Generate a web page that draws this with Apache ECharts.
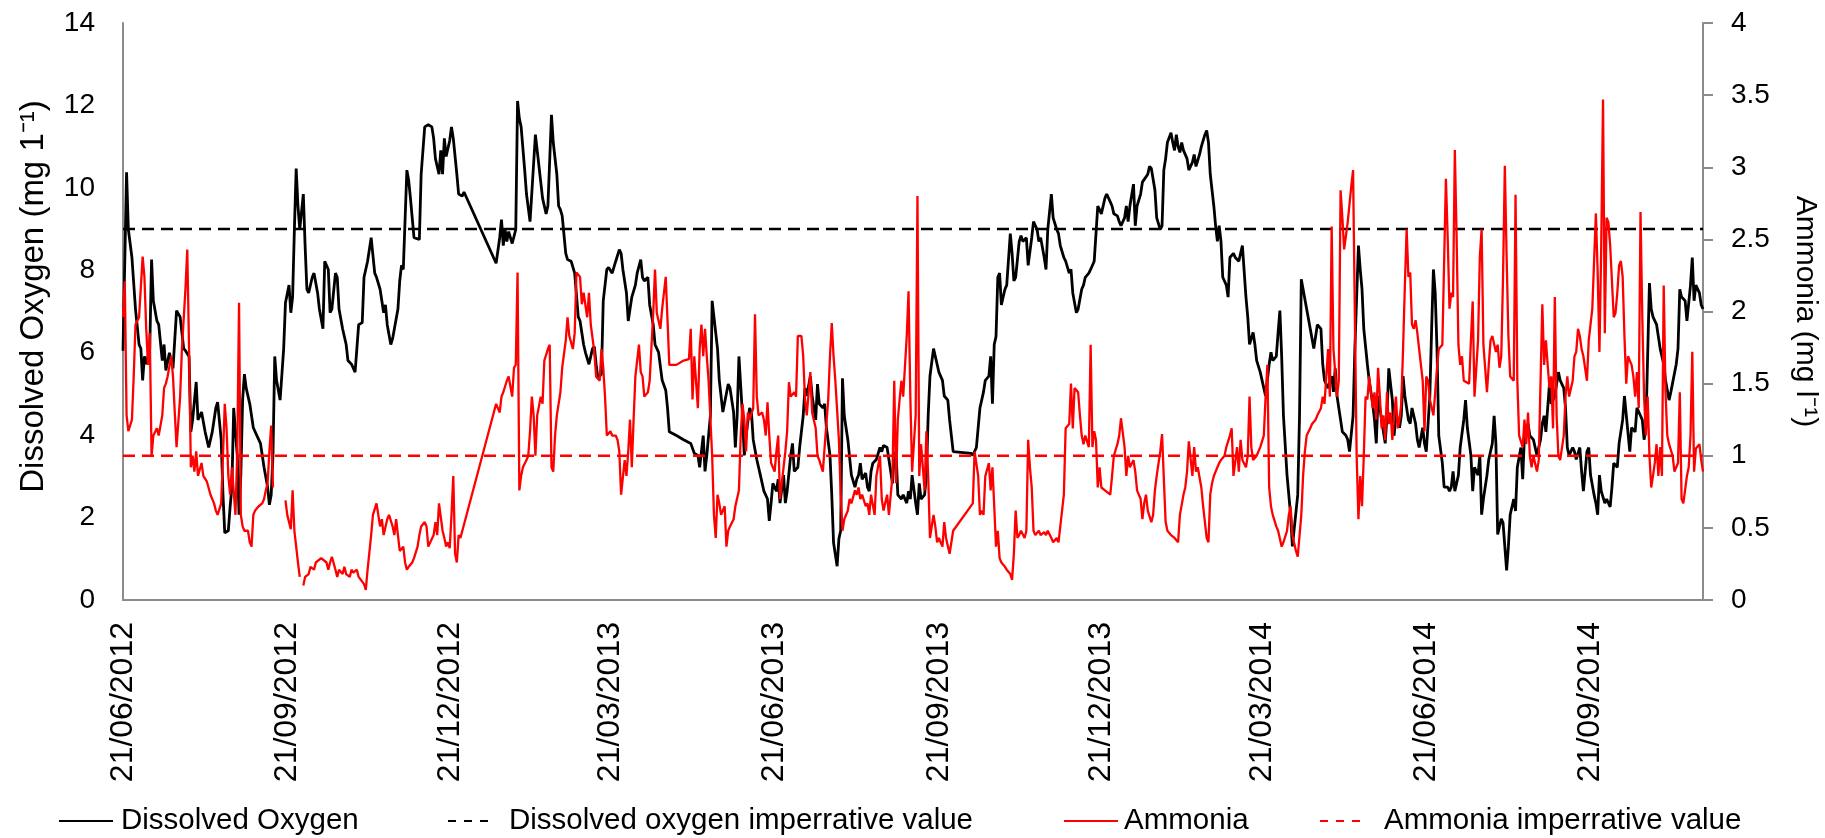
<!DOCTYPE html>
<html>
<head>
<meta charset="utf-8">
<title>Dissolved oxygen and ammonia</title>
<script src="https://cdn.jsdelivr.net/npm/echarts@6/dist/echarts.min.js"></script>
<style>
  html, body { margin: 0; padding: 0; background: #ffffff; }
  #chart { width: 1825px; height: 838px; }
</style>
</head>
<body>
<div id="chart"></div>
<script>
// Sampling period and axis ticks
const FIRST_SAMPLE = '2012-06-21';
const AXIS_END = '2014-11-23';
const dateTickLabels = ['21/06/2012', '21/09/2012', '21/12/2012', '21/03/2013', '21/06/2013',
  '21/09/2013', '21/12/2013', '21/03/2014', '21/06/2014', '21/09/2014'];
const doTicks = [0, 2, 4, 6, 8, 10, 12, 14];
const nh3Ticks = [0, 0.5, 1, 1.5, 2, 2.5, 3, 3.5, 4];

// Imperative (limit) values
const DO_LIMIT = 9;    // mg/l
const NH3_LIMIT = 1;   // mg/l

// Dissolved oxygen: [days since first sample, mg/l]
const dissolvedOxygen = [
  [0,6.05],[2,10.38],[3,8.99],[5,8.31],[7,7.06],[9,6.2],[10,6.1],[11,5.33],[12,5.91],[13,5.72],[15,6.1],[16,8.26],[17,7.26],[19,6.77],[20,6.68],[22,5.81],[23,6.2],[24,5.57],[26,6.0],[28,5.62],
  [30,7.02],[32,6.87],[34,6.1],[35,6.05],[37,5.91],[38,4.08],[39,4.37],[41,5.29],[42,4.37],[44,4.56],[46,4.08],[48,3.7],[50,4.08],[52,4.66],[53,4.8],[55,3.89],[56,2.55],[57,1.63],[59,1.68],[60,2.26],
  [61,2.74],[62,4.66],[64,3.51],[65,2.07],[66,3.03],[67,4.85],[68,5.48],[69,5.14],[71,4.76],[73,4.18],[75,3.99],[77,3.8],[79,3.22],[81,2.74],[82,2.31],[83,2.55],[84,3.51],[85,5.91],[86,5.33],[88,4.85],
  [90,6.1],[91,7.21],[93,7.64],[94,6.97],[95,7.35],[96,8.99],[97,10.47],[98,9.56],[99,8.99],[101,9.85],[102,8.6],[103,7.54],[104,7.45],[106,7.83],[107,7.93],[109,7.45],[110,7.06],[112,6.58],[113,8.22],[115,8.02],
  [116,6.97],[117,7.06],[119,7.93],[120,7.83],[121,7.06],[123,6.58],[125,6.2],[126,5.81],[128,5.72],[130,5.53],[131,6.1],[132,6.68],[134,6.73],[135,7.83],[137,8.22],[139,8.79],[141,7.93],[142,7.83],[144,7.54],[146,6.97],
  [147,7.16],[148,6.68],[150,6.2],[151,6.34],[152,6.34],[154,7.06],[155,7.74],[156,8.12],[157,8.02],[159,10.43],[160,10.19],[161,9.75],[163,8.79],[164,8.75],[166,8.75],[167,10.33],[169,11.48],[171,11.53],[173,11.48],[174,11.2],
  [175,10.71],[177,10.33],[178,10.91],[179,10.33],[180,11.2],[181,10.76],[183,11.15],[184,11.48],[185,11.2],[187,10.33],[188,9.85],[190,9.8],[191,9.9],[209,8.17],[211,8.79],[212,9.23],[213,8.6],[214,8.99],[215,8.7],[216,8.94],
  [218,8.65],[220,8.99],[221,12.11],[222,11.68],[223,11.48],[225,10.43],[226,9.85],[228,9.18],[231,11.29],[232,10.91],[234,10.14],[235,9.75],[237,9.37],[238,9.56],[240,11.77],[241,11.1],[243,10.33],[244,9.56],[245,9.47],[246,9.32],
  [248,8.41],[249,8.26],[251,8.22],[253,7.93],[255,6.87],[256,6.77],[258,6.2],[259,6.01],[261,5.72],[263,6.1],[264,6.15],[265,5.72],[266,5.38],[268,5.48],[269,7.26],[271,8.02],[272,8.07],[274,7.93],[276,8.22],[278,8.5],
  [279,8.41],[280,8.02],[282,7.45],[283,6.77],[285,7.35],[287,7.64],[288,7.93],[290,8.26],[291,7.83],[292,7.74],[294,7.83],[295,7.16],[297,6.68],[298,6.2],[300,6.01],[302,5.33],[304,5.09],[305,4.66],[306,4.08],[310,3.99],
  [314,3.89],[318,3.8],[320,3.56],[322,3.51],[323,3.22],[325,3.99],[326,3.12],[327,3.51],[329,4.47],[330,7.26],[331,6.87],[333,6.1],[334,5.33],[336,4.56],[337,4.56],[339,5.24],[340,5.14],[342,4.56],[343,3.7],[344,4.47],
  [345,5.91],[347,4.47],[348,3.51],[349,3.99],[351,4.66],[352,4.56],[353,3.89],[355,3.41],[357,3.03],[359,2.64],[361,2.45],[362,1.92],[363,2.35],[364,2.83],[366,2.64],[367,2.93],[368,2.35],[370,3.03],[371,2.35],[372,2.64],
  [374,3.51],[375,3.8],[376,3.12],[378,3.22],[379,3.7],[381,4.47],[382,5.14],[383,4.95],[385,5.43],[386,4.95],[388,4.37],[389,5.24],[390,4.76],[392,4.66],[393,4.76],[394,4.18],[396,3.51],[397,2.55],[398,1.39],[400,0.82],
  [401,1.49],[402,1.68],[403,5.38],[404,4.47],[406,3.89],[407,3.89],[408,3.03],[410,2.74],[411,2.93],[412,3.03],[413,3.32],[414,2.93],[416,3.08],[417,2.74],[418,2.64],[419,3.12],[420,3.32],[422,3.41],[424,3.7],[425,3.6],
  [426,3.75],[428,3.7],[429,3.41],[431,2.83],[432,3.51],[433,3.6],[434,2.55],[436,2.45],[437,2.55],[439,2.35],[440,2.64],[441,2.45],[442,3.03],[444,2.35],[445,2.07],[446,2.83],[447,2.45],[449,2.55],[450,3.03],[451,4.47],
  [452,5.43],[454,6.1],[456,5.72],[457,5.53],[459,5.33],[460,4.95],[462,4.85],[463,4.37],[465,3.6],[475,3.56],[476,3.51],[478,3.7],[480,4.66],[482,5.05],[483,5.33],[485,5.43],[486,5.91],[487,4.76],[488,6.2],[489,6.39],
  [490,7.83],[491,7.93],[492,7.16],[494,7.54],[495,7.64],[497,8.89],[498,8.41],[499,7.74],[500,7.83],[502,8.7],[503,8.84],[504,8.7],[506,8.79],[507,8.12],[509,8.79],[510,9.18],[512,8.99],[513,8.7],[514,8.79],[516,8.31],
  [517,8.02],[518,8.99],[520,9.85],[521,9.27],[523,8.99],[524,8.89],[525,8.6],[527,8.31],[528,8.22],[530,7.93],[531,8.02],[532,7.45],[534,6.97],[535,7.06],[537,7.54],[538,7.64],[539,7.83],[541,7.93],[542,8.02],[544,8.22],
  [545,8.89],[546,9.56],[547,9.47],[548,9.37],[550,9.75],[551,9.85],[553,9.66],[554,9.56],[555,9.37],[557,9.32],[558,9.18],[559,9.08],[561,9.27],[562,9.56],[563,9.18],[564,9.56],[566,10.09],[567,9.08],[568,9.56],[570,9.85],
  [571,10.14],[572,10.14],[574,10.33],[575,10.52],[576,10.47],[578,9.95],[579,9.27],[581,8.99],[582,9.08],[583,10.43],[584,10.71],[585,11.1],[587,11.34],[588,11.1],[589,10.91],[590,11.29],[591,11.0],[592,10.86],[593,11.1],[594,10.91],
  [596,10.71],[597,10.43],[599,10.62],[600,10.81],[601,10.52],[603,10.81],[604,11.0],[606,11.29],[607,11.39],[608,11.1],[609,10.33],[611,9.56],[612,9.08],[613,8.7],[614,9.08],[615,8.7],[616,7.83],[618,7.64],[619,7.35],[620,8.31],
  [622,8.41],[623,8.31],[625,8.22],[626,8.41],[627,8.6],[629,7.35],[630,6.87],[631,6.2],[633,6.49],[634,6.2],[635,5.81],[637,5.53],[639,5.14],[640,4.95],[642,5.72],[643,6.01],[644,5.81],[646,5.91],[647,6.49],[648,7.02],
  [649,5.91],[650,4.47],[652,3.03],[654,2.07],[655,1.3],[656,1.3],[658,2.55],[659,4.47],[660,7.78],[661,7.54],[663,7.06],[665,6.58],[667,6.1],[668,6.39],[669,6.68],[671,6.58],[672,5.72],[673,5.33],[675,5.14],[677,5.43],
  [678,5.05],[679,5.62],[680,4.95],[682,4.37],[683,4.08],[685,3.99],[686,3.89],[687,3.6],[689,4.47],[690,6.1],[692,8.6],[693,8.02],[694,7.54],[695,6.58],[697,5.72],[698,5.33],[700,4.76],[701,4.37],[702,3.8],[703,4.95],
  [704,4.66],[706,4.08],[707,3.8],[708,4.47],[709,5.62],[711,4.85],[712,3.99],[713,4.56],[715,4.18],[716,4.47],[717,5.43],[718,4.95],[720,4.37],[721,4.28],[722,4.66],[724,4.28],[725,3.89],[726,3.7],[728,4.18],[729,3.8],
  [730,3.6],[732,4.95],[733,6.58],[734,8.02],[735,7.45],[736,6.1],[737,3.99],[739,3.32],[740,2.74],[742,2.74],[743,2.64],[744,2.74],[745,3.12],[746,2.64],[748,3.03],[749,3.7],[751,4.37],[752,4.85],[753,4.18],[755,3.51],
  [756,2.64],[757,3.22],[759,3.03],[760,3.51],[761,2.07],[762,2.45],[764,3.03],[765,3.41],[767,3.8],[768,4.47],[769,3.8],[770,1.59],[772,1.97],[773,1.87],[775,0.72],[776,1.3],[777,2.07],[779,2.45],[780,2.16],[781,3.22],
  [783,3.7],[784,2.93],[785,3.99],[787,4.28],[788,3.99],[790,3.89],[791,3.7],[792,3.51],[794,3.89],[795,4.28],[796,4.47],[797,4.08],[799,5.24],[800,4.76],[801,4.85],[802,4.95],[804,5.53],[805,5.33],[807,5.14],[808,4.66],
  [809,3.7],[810,3.51],[812,3.7],[813,3.6],[814,3.41],[816,3.7],[817,3.12],[818,2.64],[820,3.6],[821,3.7],[822,3.03],[824,2.55],[825,2.35],[826,2.07],[827,3.03],[828,2.64],[830,2.35],[831,2.45],[833,2.26],[834,2.74],
  [835,3.32],[837,3.22],[838,3.8],[840,4.37],[841,4.95],[842,4.95],[844,3.6],[845,4.18],[847,4.08],[848,4.66],[850,4.47],[851,4.37],[852,3.89],[853,4.18],[855,7.69],[856,7.06],[857,6.87],[859,6.68],[860,6.39],[861,6.1],
  [863,5.72],[864,5.33],[866,4.85],[867,5.05],[868,5.05],[870,5.72],[871,6.1],[872,7.54],[873,7.35],[875,7.26],[876,6.77],[878,7.64],[879,8.31],[880,7.26],[881,7.64],[883,7.45],[884,7.16],[885,7.06]
];

// Ammonia: [days since first sample, mg/l]; null marks a break in the record
const ammonia = [
  [0,1.96],[1,2.21],[2,1.28],[3,1.17],[5,1.25],[6,1.55],[7,1.91],[9,1.96],[10,1.96],[11,2.38],[12,2.24],[13,1.88],[14,1.63],[15,1.85],[16,1.0],[17,1.14],[19,1.19],[20,1.14],[22,1.28],[23,1.47],
  [24,1.5],[25,1.55],[27,1.69],[28,1.55],[29,1.3],[30,1.06],[32,1.41],[33,1.74],[35,2.16],[36,2.43],[37,1.74],[38,0.92],[39,1.0],[40,0.89],[41,1.03],[42,0.86],[44,0.95],[45,0.86],[47,0.82],[48,0.81],
  [49,0.73],[51,0.67],[52,0.62],[53,0.59],[55,0.67],[56,1.0],[57,1.36],[58,1.19],[59,0.86],[60,0.73],[61,0.92],[63,0.59],[64,1.03],[65,2.06],[66,0.59],[67,0.51],[68,0.48],[70,0.48],[71,0.4],[72,0.37],
  [73,0.59],[74,0.62],[76,0.65],[78,0.67],[79,0.7],[80,0.76],[81,0.81],[82,1.03],[83,1.21],[84,0.78],[86,null],[91,0.69],[92,0.59],[93,0.59],[94,0.49],[95,0.76],[96,0.48],[98,0.26],[99,0.16],[100,null],
  [101,0.1],[102,0.16],[104,0.18],[105,0.23],[107,0.21],[108,0.26],[109,0.26],[111,0.29],[112,0.3],[114,0.26],[115,0.21],[116,0.26],[117,0.3],[119,0.21],[120,0.16],[121,0.21],[123,0.18],[124,0.23],[125,0.18],[127,0.16],
  [128,0.21],[129,0.19],[131,0.21],[132,0.16],[133,0.15],[135,0.11],[136,0.07],[137,0.21],[139,0.45],[140,0.59],[141,0.59],[142,0.67],[144,0.51],[145,0.56],[146,0.45],[148,0.56],[149,0.59],[151,0.51],[152,0.45],[153,0.56],
  [154,0.45],[155,0.34],[157,0.37],[158,0.26],[159,0.21],[160,0.23],[162,0.26],[163,0.29],[165,0.37],[166,0.45],[167,0.51],[169,0.54],[170,0.51],[171,0.37],[172,0.37],[174,0.45],[175,0.54],[176,0.45],[177,0.67],[179,0.48],
  [180,0.43],[181,0.37],[182,0.4],[183,0.36],[184,0.59],[185,0.86],[186,0.32],[187,0.26],[188,0.45],[189,0.43],[209,1.36],[211,1.3],[212,1.41],[213,1.44],[215,1.52],[216,1.55],[218,1.41],[219,1.61],[220,1.63],[221,2.27],
  [222,0.76],[223,0.86],[224,0.92],[226,0.97],[227,1.0],[228,1.17],[229,1.41],[230,1.28],[231,1.0],[232,1.28],[234,1.41],[235,1.36],[236,1.66],[238,1.74],[239,1.77],[240,0.92],[241,0.89],[242,1.14],[243,1.28],[245,1.44],
  [246,1.61],[248,1.8],[249,1.96],[250,1.83],[252,1.74],[253,1.85],[254,2.27],[256,2.24],[257,2.05],[258,2.13],[260,1.96],[261,2.13],[262,1.91],[264,1.72],[265,1.55],[267,1.52],[268,1.74],[269,1.61],[270,1.41],[271,1.14],
  [273,1.17],[274,1.14],[276,1.14],[277,1.11],[278,1.03],[279,0.73],[281,0.97],[282,0.86],[283,1.03],[284,1.25],[285,0.92],[286,1.25],[287,1.55],[289,1.77],[290,1.58],[291,1.55],[292,1.41],[294,1.44],[295,1.52],[297,1.99],
  [298,2.29],[299,1.99],[301,1.88],[302,2.02],[304,2.24],[305,1.94],[306,1.63],[310,1.63],[314,1.66],[317,1.67],[318,1.88],[319,1.39],[320,1.69],[322,1.33],[323,1.74],[324,1.91],[325,1.69],[326,1.88],[327,1.69],[328,1.52],
  [330,1.0],[331,0.59],[332,0.43],[333,0.73],[334,0.67],[335,0.59],[337,0.65],[338,0.37],[339,0.48],[340,0.51],[342,0.56],[343,0.65],[345,0.76],[346,1.14],[347,1.36],[348,1.25],[349,1.03],[350,1.3],[351,1.25],[353,1.33],
  [354,1.98],[355,1.41],[356,1.28],[358,1.3],[359,1.25],[360,1.14],[361,1.37],[362,1.14],[363,0.95],[365,0.89],[366,1.03],[367,1.14],[368,0.7],[370,0.92],[371,1.03],[372,1.17],[373,1.51],[374,1.41],[376,1.44],[377,1.41],
  [378,1.83],[380,1.83],[381,1.69],[382,1.39],[383,1.28],[385,1.58],[386,1.3],[388,1.19],[389,1.0],[390,0.97],[392,0.89],[393,1.06],[395,1.39],[396,1.69],[397,1.92],[398,1.69],[399,1.52],[401,1.11],[402,0.73],[403,0.48],
  [404,0.56],[406,0.62],[407,0.7],[408,0.67],[410,0.76],[411,0.73],[412,0.78],[413,0.7],[414,0.73],[416,0.65],[417,0.67],[418,0.59],[419,0.73],[421,0.59],[422,0.86],[424,1.0],[425,0.7],[426,0.62],[428,0.73],[429,0.59],
  [431,0.86],[432,1.52],[433,0.81],[434,1.25],[435,1.39],[436,1.52],[437,1.41],[439,1.83],[440,2.14],[441,1.41],[442,0.89],[444,1.28],[445,2.8],[446,0.86],[447,1.08],[449,0.76],[450,1.17],[451,0.86],[452,0.43],[454,0.59],
  [455,0.51],[456,0.4],[457,0.43],[459,0.37],[460,0.54],[461,0.43],[463,0.32],[464,0.4],[465,0.48],[476,0.67],[477,1.03],[479,0.86],[480,0.59],[481,0.62],[482,0.59],[483,0.86],[485,0.95],[486,0.76],[487,0.92],[488,0.65],
  [489,0.37],[490,0.48],[491,0.29],[492,0.26],[494,0.23],[495,0.21],[497,0.18],[498,0.14],[499,0.32],[500,0.62],[501,0.43],[502,0.45],[503,0.48],[505,0.43],[506,0.48],[507,1.11],[508,0.92],[509,0.78],[510,0.48],[511,0.45],
  [513,0.48],[514,0.45],[516,0.47],[517,0.45],[518,0.48],[520,0.43],[521,0.4],[523,0.43],[524,0.4],[525,0.4],[527,0.73],[528,1.19],[530,1.22],[531,1.5],[532,1.19],[533,1.47],[535,1.44],[536,1.28],[537,1.14],[538,1.08],
  [539,1.14],[541,1.06],[542,1.77],[543,1.06],[544,1.17],[545,1.11],[546,0.78],[547,0.92],[548,0.78],[550,0.76],[551,0.76],[553,0.73],[554,0.86],[555,1.0],[557,1.08],[558,1.14],[559,1.26],[561,1.06],[562,0.86],[563,1.0],
  [564,0.92],[566,0.97],[567,0.89],[568,0.76],[570,0.7],[571,0.56],[572,0.67],[573,0.73],[574,0.62],[576,0.54],[577,0.59],[578,0.76],[579,0.86],[581,1.03],[582,1.15],[583,0.84],[584,0.54],[585,0.48],[587,0.45],[588,0.45],
  [589,0.43],[591,0.4],[592,0.59],[594,0.73],[595,0.78],[596,0.89],[597,1.1],[599,0.86],[600,1.06],[601,0.89],[602,0.92],[604,0.78],[605,0.65],[607,0.43],[608,0.4],[609,0.73],[610,0.81],[611,0.86],[613,0.92],[614,0.95],
  [615,0.97],[617,1.0],[618,1.06],[620,1.14],[621,1.19],[622,0.86],[624,1.06],[625,0.89],[626,1.11],[627,0.97],[629,0.92],[630,1.0],[631,1.41],[632,1.06],[633,0.97],[635,1.0],[636,1.0],[637,1.06],[639,1.14],[640,1.41],
  [641,1.63],[642,0.78],[643,0.65],[644,0.59],[646,0.51],[647,0.48],[649,0.37],[650,0.4],[652,0.48],[653,0.59],[654,0.65],[655,0.45],[657,0.34],[658,0.3],[659,0.29],[660,0.59],[661,0.86],[662,1.03],[663,1.14],[665,1.19],
  [666,1.22],[668,1.25],[669,1.28],[671,1.33],[672,1.41],[673,1.36],[674,1.55],[675,1.74],[676,1.41],[677,2.59],[678,1.74],[680,1.41],[681,1.52],[682,2.84],[683,2.65],[684,2.43],[685,2.43],[686,2.62],[688,2.87],[689,2.98],
  [690,1.96],[691,1.0],[692,0.56],[693,0.86],[694,0.65],[695,1.0],[696,1.41],[697,1.39],[698,1.55],[700,1.33],[701,1.44],[702,1.25],[703,1.61],[704,1.41],[705,1.19],[706,1.28],[707,1.11],[708,1.44],[709,1.22],[710,1.3],
  [711,1.11],[712,1.28],[713,1.41],[714,1.19],[715,1.25],[716,1.36],[717,1.74],[718,2.18],[719,2.57],[720,2.24],[721,2.27],[722,1.91],[723,1.88],[724,1.94],[725,1.85],[726,1.74],[728,1.52],[729,1.17],[730,1.55],[731,1.52],
  [732,1.39],[734,1.28],[735,1.44],[736,1.61],[737,1.74],[738,1.74],[739,1.77],[741,2.92],[742,2.51],[743,2.02],[744,2.13],[745,2.1],[746,3.12],[747,2.51],[748,1.77],[749,1.63],[750,1.69],[751,1.52],[752,1.52],[754,1.5],
  [755,1.8],[756,2.07],[757,1.41],[758,1.41],[759,1.8],[760,2.38],[761,2.57],[762,1.77],[764,1.44],[765,1.63],[766,1.8],[767,1.83],[769,1.72],[770,1.77],[771,1.61],[772,1.69],[773,2.24],[774,3.01],[775,2.38],[776,1.83],
  [777,1.55],[779,1.52],[780,2.81],[781,1.52],[782,1.14],[784,1.06],[785,1.25],[786,1.08],[787,1.3],[788,1.0],[789,0.92],[790,1.0],[792,0.89],[793,0.97],[795,2.05],[796,1.63],[797,1.8],[798,1.63],[799,1.47],[800,1.55],
  [801,1.19],[802,2.1],[803,1.28],[804,1.0],[805,0.97],[807,1.14],[808,1.41],[809,1.55],[810,1.41],[812,1.52],[813,1.69],[814,1.72],[815,1.88],[816,1.83],[817,1.74],[818,1.69],[820,1.52],[821,1.8],[823,2.02],[824,2.35],
  [825,2.68],[826,2.27],[827,1.72],[828,2.46],[829,3.47],[830,1.85],[831,2.65],[832,2.62],[833,2.46],[835,1.96],[836,1.99],[837,2.13],[838,2.32],[839,2.35],[840,2.24],[841,1.83],[842,1.5],[843,1.69],[845,1.63],[846,1.55],
  [847,1.41],[848,1.58],[849,1.33],[850,2.69],[851,1.96],[852,1.41],[853,1.14],[854,1.41],[855,1.0],[856,0.78],[857,0.86],[858,0.95],[859,1.08],[860,0.86],[861,1.06],[862,0.86],[863,2.18],[864,1.44],[865,1.14],[866,1.08],
  [868,1.0],[869,0.89],[870,0.92],[871,0.95],[872,1.44],[873,0.7],[874,0.67],[875,0.67],[876,0.86],[877,0.92],[878,1.14],[879,1.72],[880,0.89],[881,1.05],[883,1.08],[884,0.97],[885,0.89]
];

const FONT = '"Liberation Sans", Arial, Helvetica, sans-serif';
const AXIS_GREY = '#8c8c8c';
const DAY_MS = 86400000;

function isoToMs(iso) {
  const [y, m, d] = iso.split('-').map(Number);
  return Date.UTC(y, m - 1, d);
}
function dmyToMs(dmy) {
  const [d, m, y] = dmy.split('/').map(Number);
  return Date.UTC(y, m - 1, d);
}

const startMs = isoToMs(FIRST_SAMPLE);
const endMs = isoToMs(AXIS_END);
const tickMs = dateTickLabels.map(dmyToMs);
const tickText = new Map(tickMs.map((t, i) => [t, dateTickLabels[i]]));

const toTime = series => series.map(([day, v]) => [startMs + day * DAY_MS, v]);

const NAME_DO = 'Dissolved Oxygen';
const NAME_DO_LIMIT = 'Dissolved oxygen imperrative value';
const NAME_NH3 = 'Ammonia';
const NAME_NH3_LIMIT = 'Ammonia imperrative value';

// one legend block per entry so each can sit at its own spot on the row
function legendItem(name, left, keyWidth, textGap, dashed) {
  const item = {
    data: [name],
    left: left,
    top: 806,
    padding: 0,
    itemWidth: keyWidth,
    itemHeight: 14,
    selectedMode: false,
    itemStyle: { opacity: 0 },          // line-only key, no marker dot
    textStyle: { fontSize: 29.5, color: '#000', fontFamily: FONT, padding: [0, 0, 0, textGap] }
  };
  if (dashed) item.lineStyle = { type: [8, 8] };
  return item;
}

const chart = echarts.init(document.getElementById('chart'), null, { renderer: 'canvas' });

chart.setOption({
  animation: false,
  backgroundColor: '#ffffff',
  textStyle: { fontFamily: FONT },
  grid: { left: 123, right: 122, top: 23, bottom: 238, containLabel: false, outerBoundsMode: 'none' },
  legend: [
    legendItem(NAME_DO, 58, 54, 3, false),
    legendItem(NAME_DO_LIMIT, 447, 45, 11, true),
    legendItem(NAME_NH3, 1063, 54, 1, false),
    legendItem(NAME_NH3_LIMIT, 1319, 45, 14, true)
  ],
  xAxis: {
    // timestamps on a linear scale, labelled at quarterly dates
    type: 'value',
    min: startMs,
    max: endMs,
    axisLine: { show: true, lineStyle: { color: AXIS_GREY, width: 2 } },
    axisTick: { show: false },
    splitLine: { show: false },
    axisLabel: {
      customValues: tickMs,
      rotate: 90,
      margin: 22,
      fontSize: 32,
      color: '#000',
      fontFamily: FONT,
      hideOverlap: false,
      showMinLabel: true,
      showMaxLabel: true,
      formatter: v => tickText.get(v) || ''
    }
  },
  yAxis: [
    {
      type: 'value',
      position: 'left',
      min: doTicks[0],
      max: doTicks[doTicks.length - 1],
      interval: doTicks[1] - doTicks[0],
      name: 'Dissolved Oxygen (mg 1\u207B\u00B9)',
      nameLocation: 'middle',
      nameRotate: 90,
      nameGap: 73,
      nameTextStyle: { fontSize: 33, color: '#000', fontFamily: FONT, padding: [0, 0, 0, 30] },
      axisLine: { show: true, lineStyle: { color: AXIS_GREY, width: 2 } },
      axisTick: { show: false },
      splitLine: { show: false },
      axisLabel: { fontSize: 28, color: '#000', margin: 28, fontFamily: FONT }
    },
    {
      type: 'value',
      position: 'right',
      min: nh3Ticks[0],
      max: nh3Ticks[nh3Ticks.length - 1],
      interval: nh3Ticks[1] - nh3Ticks[0],
      name: 'Ammonia (mg l\u207B\u00B9)',
      nameLocation: 'middle',
      nameRotate: -90,
      nameGap: 87,
      nameTextStyle: { fontSize: 30, color: '#000', fontFamily: FONT },
      axisLine: { show: true, lineStyle: { color: AXIS_GREY, width: 2 } },
      axisTick: { show: true, length: 10, lineStyle: { color: AXIS_GREY, width: 2 } },
      splitLine: { show: false },
      axisLabel: { fontSize: 28, color: '#000', margin: 28, fontFamily: FONT }
    }
  ],
  series: [
    {
      name: NAME_DO,
      type: 'line',
      yAxisIndex: 0,
      symbol: 'none',
      color: '#000000',
      lineStyle: { color: '#000000', width: 2.8 },
      data: toTime(dissolvedOxygen)
    },
    {
      name: NAME_DO_LIMIT,
      type: 'line',
      yAxisIndex: 0,
      symbol: 'none',
      color: '#000000',
      lineStyle: { color: '#000000', width: 2.6, type: [12, 7] },
      data: [[startMs, DO_LIMIT], [endMs, DO_LIMIT]]
    },
    {
      name: NAME_NH3,
      type: 'line',
      yAxisIndex: 1,
      symbol: 'none',
      color: '#ff0000',
      connectNulls: false,
      lineStyle: { color: '#ff0000', width: 2.3 },
      data: toTime(ammonia)
    },
    {
      name: NAME_NH3_LIMIT,
      type: 'line',
      yAxisIndex: 1,
      symbol: 'none',
      color: '#ff0000',
      lineStyle: { color: '#ff0000', width: 2.3, type: [12, 7] },
      data: [[startMs, NH3_LIMIT], [endMs, NH3_LIMIT]]
    }
  ]
});
</script>
</body>
</html>
